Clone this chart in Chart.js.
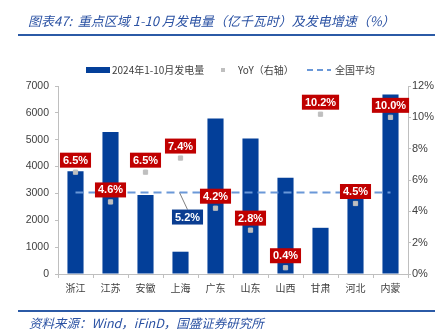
<!DOCTYPE html>
<html>
<head>
<meta charset="utf-8">
<script src="https://cdn.jsdelivr.net/npm/chart.js@4"></script>
<style>
  body { margin: 0; background: #fff; }
  #wrap { position: relative; width: 442px; height: 333px; overflow: hidden; }
  #chart { position: absolute; left: 0; top: 0; }
  .title { position: absolute; left: 28px; top: 11px; font: italic 13px "Noto Sans CJK SC"; color: #2b52a3; white-space: nowrap; }
  .src { position: absolute; left: 29px; top: 313px; font: italic 12.5px "Noto Sans CJK SC"; color: #2b52a3; white-space: nowrap; }
  .rule { position: absolute; left: 18px; width: 417px; height: 2px; background: #2b5aa6; }
</style>
</head>
<body>
<div id="wrap">
  <canvas id="chart" width="442" height="333"></canvas>
  <div class="title">图表47:&nbsp; 重点区域 1-10 月发电量（亿千瓦时）及发电增速（%）</div>
  <div class="rule" style="top:34px"></div>
  <div class="rule" style="top:310px"></div>
  <div class="src">资料来源：Wind，iFinD，国盛证券研究所</div>
</div>
<script>
// данные
const regions = ['浙江', '江苏', '安徽', '上海', '广东', '山东', '山西', '甘肃', '河北', '内蒙']
const output = [3830, 5290, 2940, 830, 5790, 5045, 3580, 1720, 2950, 6680]
const yoy = [6.5, 4.6, 6.5, 7.4, 4.2, 2.8, 0.4, 10.2, 4.5, 10.0]
const nationalAvg = 5.2
const avgLine = regions.map(() => nationalAvg)

const BLUE = '#033f99'
const GRAY = '#bfbfbf'
const DASH = '#6a98d8'
const TXT = '#404040'

// подписи значений в красных рамках
const boxLabels = {
  id: 'boxLabels',
  afterDatasetsDraw(chart) {
    const ctx = chart.ctx
    ctx.save()
    ctx.font = 'bold 11px "Liberation Sans"'
    ctx.textAlign = 'center'
    ctx.textBaseline = 'middle'
    const pts = chart.getDatasetMeta(2).data
    pts.forEach((p, i) => {
      const t = yoy[i].toFixed(1) + '%'
      const w = ctx.measureText(t).width + 6
      const cy = p.y - 12
      ctx.fillStyle = '#c00000'
      ctx.fillRect(p.x - w / 2, cy - 7.5, w, 15)
      ctx.fillStyle = '#fff'
      ctx.fillText(t, p.x, cy + 0.5)
    })
    // средний уровень 5.2%
    const a = chart.getDatasetMeta(1).data[3]
    ctx.strokeStyle = '#7f7f7f'
    ctx.lineWidth = 1
    ctx.beginPath()
    ctx.moveTo(a.x - 1, a.y)
    ctx.lineTo(a.x + 7, a.y + 17)
    ctx.stroke()
    const t = nationalAvg.toFixed(1) + '%'
    const w = ctx.measureText(t).width + 6
    ctx.fillStyle = '#0a3d91'
    ctx.fillRect(a.x + 7 - w / 2, a.y + 17, w, 15)
    ctx.fillStyle = '#fff'
    ctx.fillText(t, a.x + 7, a.y + 25)
    ctx.restore()
  }
}

// легенда сверху
const topLegend = {
  id: 'topLegend',
  afterDraw(chart) {
    const ctx = chart.ctx
    ctx.save()
    ctx.fillStyle = BLUE
    ctx.fillRect(86, 67, 24, 6)
    ctx.fillStyle = GRAY
    ctx.fillRect(221, 68, 4, 4)
    ctx.strokeStyle = DASH
    ctx.lineWidth = 2
    ctx.setLineDash([6, 4])
    ctx.beginPath()
    ctx.moveTo(307, 70)
    ctx.lineTo(331, 70)
    ctx.stroke()
    ctx.setLineDash([])
    ctx.fillStyle = TXT
    ctx.textBaseline = 'middle'
    ctx.font = '10px "Noto Sans CJK SC"'
    ctx.fillText('2024年1-10月发电量', 112, 70)
    ctx.fillText('YoY（右轴）', 238, 70)
    ctx.fillText('全国平均', 335, 70)
    ctx.restore()
  }
}

new Chart(document.getElementById('chart'), {
  data: {
    labels: regions,
    datasets: [
      {
        type: 'bar', label: '2024年1-10月发电量', data: output, yAxisID: 'y',
        backgroundColor: BLUE, barPercentage: 0.46, categoryPercentage: 1, order: 3
      },
      {
        type: 'line', label: '全国平均', data: avgLine, yAxisID: 'y1',
        borderColor: DASH, borderWidth: 2, borderDash: [8, 5], pointRadius: 0, order: 2
      },
      {
        type: 'line', label: 'YoY（右轴）', data: yoy, yAxisID: 'y1', showLine: false,
        pointStyle: 'rect', pointRadius: 3, backgroundColor: GRAY, borderColor: GRAY, order: 1
      }
    ]
  },
  options: {
    responsive: false,
    animation: false,
    layout: { padding: { top: 86, left: 0, right: 0, bottom: 0 } },
    plugins: { legend: { display: false }, tooltip: { enabled: false } },
    scales: {
      x: {
        offset: true,
        grid: { offset: true, drawOnChartArea: false, tickLength: 4, color: '#bfbfbf' },
        border: { color: '#bfbfbf' },
        ticks: { padding: 4, color: TXT, font: { family: 'Noto Sans CJK SC', size: 10 } },
        afterFit(s) { s.height = 59 }
      },
      y: {
        position: 'left', min: 0, max: 7000,
        ticks: { stepSize: 1000, padding: 6, color: TXT, callback: v => String(v), font: { family: 'Liberation Sans', size: 10.5 } },
        grid: { drawOnChartArea: false, tickLength: 3, color: '#bfbfbf' },
        border: { color: '#bfbfbf' },
        afterFit(s) { s.width = 58 }
      },
      y1: {
        position: 'right', min: 0, max: 12,
        ticks: { stepSize: 2, padding: 1, color: TXT, callback: v => v + '%', font: { family: 'Liberation Sans', size: 11 } },
        grid: { drawOnChartArea: false, tickLength: 3, color: '#bfbfbf' },
        border: { color: '#bfbfbf' },
        afterFit(s) { s.width = 34 }
      }
    }
  },
  plugins: [boxLabels, topLegend]
})
</script>
</body>
</html>
